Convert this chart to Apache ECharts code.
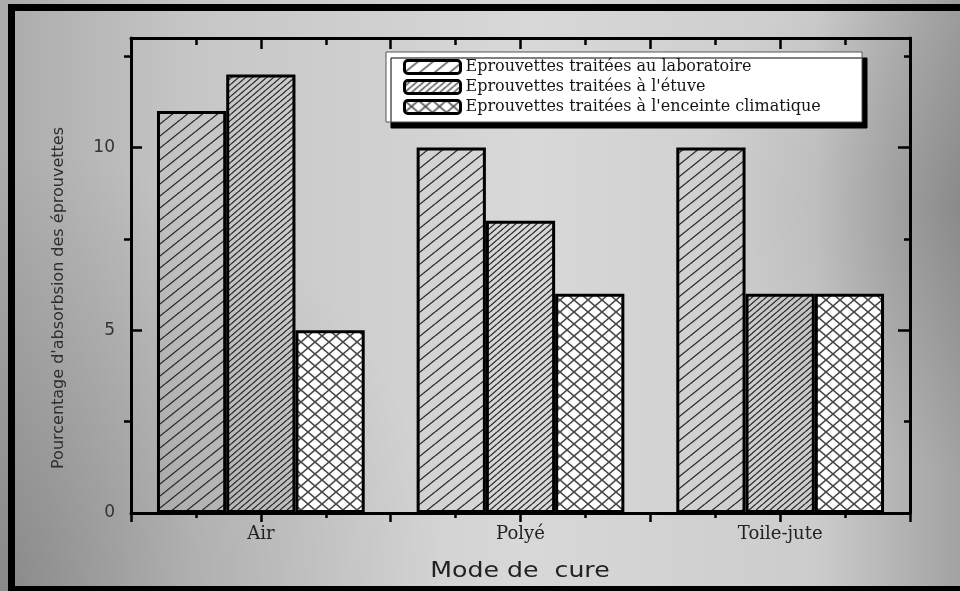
<!DOCTYPE html>
<html>
<head>
<meta charset="utf-8">
<script src="https://cdn.jsdelivr.net/npm/echarts@6/dist/echarts.min.js"></script>
<style>
  html, body { margin: 0; padding: 0; background: #c8c8c8; }
  #chart { width: 960px; height: 591px; }
</style>
</head>
<body>
<div id="chart"></div>
<script>
// Curing modes and absorption percentages per specimen group
const categories = ['Air', 'Polyé', 'Toile-jute'];
const seriesNames = [
  'Eprouvettes traitées au laboratoire',
  "Eprouvettes traitées à l'étuve",
  "Eprouvettes traitées à l'enceinte climatique"
];
const laboratoire = [11, 10, 10];
const etuve = [12, 8, 6];
const enceinte = [5, 6, 6];

// Tick positions on the value axis
const yMajorTicks = [0, 5, 10];
const yMinorTicks = [2.5, 7.5, 12.5];
const yMax = 13;

const xTitle = 'Mode de  cure';
const yTitle = "Pourcentage d'absorbsion des éprouvettes";

// Repeating hatch tile: diagonal lines (and optional back-diagonals)
function hatch(w, h, color, lw, bg, cross) {
  const c = document.createElement('canvas');
  c.width = w; c.height = h;
  const g = c.getContext('2d');
  if (bg) { g.fillStyle = bg; g.fillRect(0, 0, w, h); }
  g.strokeStyle = color;
  g.lineWidth = lw;
  for (let k = -1; k <= 1; k++) {
    g.beginPath(); g.moveTo(0, h + k * h); g.lineTo(w, k * h); g.stroke();
    if (cross) { g.beginPath(); g.moveTo(0, k * h); g.lineTo(w, h + k * h); g.stroke(); }
  }
  return { image: c, repeat: 'repeat' };
}

const fills = [
  hatch(15, 12, '#2a2a2a', 1.3, null, false),
  hatch(7, 6, '#2a2a2a', 1.3, null, false),
  hatch(14, 12, '#474747', 1.6, '#ffffff', true)
];

const seriesData = [laboratoire, etuve, enceinte];

const black = '#000';
const tickStyle = { color: black, width: 2.5 };

const chart = echarts.init(document.getElementById('chart'), null, { renderer: 'canvas' });

chart.setOption({
  animation: false,
  backgroundColor: 'transparent',
  grid: { left: 131, right: 50, top: 38, bottom: 78, containLabel: false },
  legend: {
    orient: 'vertical',
    left: 403,
    top: 58,
    padding: 0,
    itemGap: 2,
    itemWidth: 56,
    itemHeight: 13,
    icon: 'roundRect',
    z: 10,
    data: seriesNames,
    itemStyle: { borderColor: black, borderWidth: 3 },
    textStyle: {
      fontFamily: 'DejaVu Serif',
      fontSize: 16,
      color: '#161616',
      lineHeight: 18
    }
  },
  xAxis: [
    {
      type: 'category',
      data: categories,
      position: 'bottom',
      axisLine: { show: true, onZero: false, lineStyle: { color: black, width: 3 } },
      axisTick: { show: false },
      axisLabel: {
        fontFamily: 'DejaVu Serif',
        fontSize: 18,
        color: '#222',
        margin: 12
      },
      splitLine: { show: false },
      z: 5
    },
    {
      type: 'value',
      position: 'bottom',
      min: 0, max: 6, interval: 1,
      axisLine: { show: false, onZero: false },
      axisTick: { show: true, inside: false, length: 9, lineStyle: tickStyle },
      minorTick: { show: true, splitNumber: 2, length: 5, lineStyle: tickStyle },
      axisLabel: { show: false },
      splitLine: { show: false }
    },
    {
      type: 'value',
      position: 'top',
      min: 0, max: 6, interval: 1,
      axisLine: { show: true, onZero: false, lineStyle: { color: black, width: 3 } },
      axisTick: { show: true, inside: true, length: 11, lineStyle: tickStyle },
      minorTick: { show: true, splitNumber: 2, length: 7, lineStyle: tickStyle },
      axisLabel: { show: false },
      splitLine: { show: false }
    }
  ],
  yAxis: [
    {
      type: 'value',
      position: 'left',
      min: 0, max: yMax,
      axisLine: { show: true, onZero: false, lineStyle: { color: black, width: 3 } },
      axisTick: { show: true, inside: true, length: 11, customValues: yMajorTicks, lineStyle: tickStyle },
      axisLabel: {
        customValues: yMajorTicks,
        fontFamily: 'DejaVu Sans',
        fontSize: 17,
        color: '#333',
        margin: 16
      },
      splitLine: { show: false }
    },
    {
      type: 'value',
      position: 'left',
      min: 0, max: yMax,
      axisLine: { show: false, onZero: false },
      axisTick: { show: true, inside: false, length: 7, customValues: yMinorTicks, lineStyle: tickStyle },
      axisLabel: { show: false },
      splitLine: { show: false }
    },
    {
      type: 'value',
      position: 'right',
      min: 0, max: yMax,
      axisLine: { show: true, onZero: false, lineStyle: { color: black, width: 3 } },
      axisTick: { show: true, inside: true, length: 12, customValues: yMajorTicks, lineStyle: tickStyle },
      axisLabel: { show: false },
      splitLine: { show: false }
    },
    {
      type: 'value',
      position: 'right',
      min: 0, max: yMax,
      axisLine: { show: false, onZero: false },
      axisTick: { show: true, inside: true, length: 6, customValues: yMinorTicks, lineStyle: tickStyle },
      axisLabel: { show: false },
      splitLine: { show: false }
    }
  ],
  series: seriesNames.map((name, i) => ({
    name: name,
    type: 'bar',
    xAxisIndex: 0,
    yAxisIndex: 0,
    data: seriesData[i],
    barGap: '0%',
    barCategoryGap: '20%',
    itemStyle: {
      color: fills[i],
      borderColor: black,
      borderWidth: 3
    },
    emphasis: { disabled: true }
  })),
  graphic: [
    // page backdrop
    {
      type: 'rect', z: -100, silent: true,
      shape: { x: 0, y: 0, width: 960, height: 591 },
      style: {
        fill: new echarts.graphic.LinearGradient(0, 0, 1, 0, [
          { offset: 0, color: '#ababab' },
          { offset: 0.2, color: '#c6c6c6' },
          { offset: 0.55, color: '#d8d8d8' },
          { offset: 0.85, color: '#cccccc' },
          { offset: 1, color: '#a2a2a2' }
        ])
      }
    },
    {
      type: 'rect', z: -99, silent: true,
      shape: { x: 0, y: 0, width: 960, height: 591 },
      style: {
        fill: new echarts.graphic.RadialGradient(0, 1, 0.75, [
          { offset: 0, color: 'rgba(0,0,0,0.2)' },
          { offset: 1, color: 'rgba(0,0,0,0)' }
        ])
      }
    },
    {
      type: 'rect', z: -98, silent: true,
      shape: { x: 0, y: 0, width: 960, height: 591 },
      style: {
        fill: new echarts.graphic.RadialGradient(1, 0.35, 0.45, [
          { offset: 0, color: 'rgba(0,0,0,0.15)' },
          { offset: 1, color: 'rgba(0,0,0,0)' }
        ])
      }
    },
    // frame
    { type: 'rect', z: 20, silent: true, shape: { x: 8, y: 4, width: 7, height: 587 }, style: { fill: '#000' } },
    { type: 'rect', z: 20, silent: true, shape: { x: 8, y: 4, width: 952, height: 7 }, style: { fill: '#000' } },
    { type: 'rect', z: 20, silent: true, shape: { x: 8, y: 586, width: 952, height: 5 }, style: { fill: '#000' } },
    // legend panel
    {
      type: 'rect', z: 9, silent: true,
      shape: { x: 386, y: 52, width: 476, height: 70 },
      style: {
        fill: '#ffffff', stroke: '#555', lineWidth: 1,
        shadowColor: '#000', shadowBlur: 0, shadowOffsetX: 5, shadowOffsetY: 6
      }
    },
    // axis titles
    {
      type: 'text', z: 10, silent: true,
      x: 59, y: 298, rotation: Math.PI / 2,
      style: {
        text: yTitle, fill: '#2e2e2e', fontFamily: 'DejaVu Sans', fontSize: 16,
        align: 'center', verticalAlign: 'middle'
      }
    },
    {
      type: 'text', z: 10, silent: true,
      x: 520, y: 572, scaleX: 1.2,
      style: {
        text: xTitle, fill: '#222', fontFamily: 'DejaVu Sans', fontSize: 21,
        align: 'center', verticalAlign: 'middle'
      }
    }
  ]
});
</script>
</body>
</html>
